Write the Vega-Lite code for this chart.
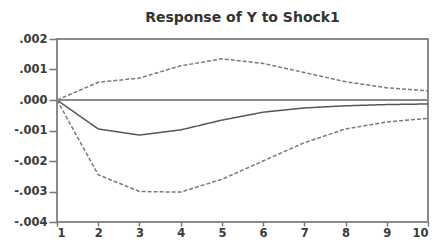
{
  "$schema": "https://vega.github.io/schema/vega-lite/v6.json",
  "autosize": "none",
  "width": 371,
  "height": 183,
  "padding": {"left": 57, "top": 39, "right": 10, "bottom": 18},
  "background": "white",
  "title": {"text": "Response of Y to Shock1", "font": "DejaVu Sans", "fontSize": 14, "fontWeight": "bold", "color": "#333", "offset": 8, "anchor": "middle"},
  "config": {
    "view": {"stroke": "#8a8a8a", "strokeWidth": 2},
    "axis": {"grid": false, "labelFont": "DejaVu Sans", "labelFontSize": 11.5, "labelFontWeight": "bold", "labelColor": "#3a3a3a", "domain": false, "tickColor": "#777", "tickWidth": 1.5, "title": null, "labelOverlap": false}
  },
  "data": {"values": [
    {"step": 1, "series": "resp", "value": 0},
    {"step": 2, "series": "resp", "value": -0.00095},
    {"step": 3, "series": "resp", "value": -0.00115},
    {"step": 4, "series": "resp", "value": -0.00098},
    {"step": 5, "series": "resp", "value": -0.00066},
    {"step": 6, "series": "resp", "value": -0.0004},
    {"step": 7, "series": "resp", "value": -0.00026},
    {"step": 8, "series": "resp", "value": -0.00019},
    {"step": 9, "series": "resp", "value": -0.00015},
    {"step": 10, "series": "resp", "value": -0.00013},
    {"step": 1, "series": "upper", "value": 0},
    {"step": 2, "series": "upper", "value": 0.00058},
    {"step": 3, "series": "upper", "value": 0.00072},
    {"step": 4, "series": "upper", "value": 0.00112},
    {"step": 5, "series": "upper", "value": 0.00135},
    {"step": 6, "series": "upper", "value": 0.0012},
    {"step": 7, "series": "upper", "value": 0.0009},
    {"step": 8, "series": "upper", "value": 0.0006},
    {"step": 9, "series": "upper", "value": 0.0004},
    {"step": 10, "series": "upper", "value": 0.0003},
    {"step": 1, "series": "lower", "value": 0},
    {"step": 2, "series": "lower", "value": -0.00245},
    {"step": 3, "series": "lower", "value": -0.003},
    {"step": 4, "series": "lower", "value": -0.00302},
    {"step": 5, "series": "lower", "value": -0.0026},
    {"step": 6, "series": "lower", "value": -0.002},
    {"step": 7, "series": "lower", "value": -0.0014},
    {"step": 8, "series": "lower", "value": -0.00095},
    {"step": 9, "series": "lower", "value": -0.00072},
    {"step": 10, "series": "lower", "value": -0.0006}
  ]},
  "layer": [
    {
      "mark": {"type": "line", "strokeWidth": 1.5},
      "encoding": {
        "x": {"field": "step", "type": "quantitative", "scale": {"domain": [1, 10], "nice": false}, "axis": {"values": [1,2,3,4,5,6,7,8,9,10], "labelOverlap": false, "tickSize": 4, "labelPadding": 1, "format": "d"}},
        "y": {"field": "value", "type": "quantitative", "scale": {"domain": [-0.004, 0.002], "nice": false}, "axis": {"values": [-0.004,-0.003,-0.002,-0.001,0,0.001,0.002], "tickCount": 7, "labelOverlap": false, "tickSize": 8, "labelPadding": 2, "labelExpr": "(datum.value < 0 ? '-' : '') + replace(format(abs(datum.value), '.3f'), '0.', '.')"}},
        "detail": {"field": "series"},
        "color": {"field": "series", "type": "nominal", "scale": {"domain": ["resp", "upper", "lower"], "range": ["#555", "#7a7a7a", "#7a7a7a"]}, "legend": null},
        "strokeDash": {"field": "series", "type": "nominal", "scale": {"domain": ["resp", "upper", "lower"], "range": [[1, 0], [4, 2], [4, 2]]}, "legend": null}
      }
    },
    {
      "mark": {"type": "rule", "color": "#8a8a8a", "strokeWidth": 2},
      "encoding": {"y": {"datum": 0, "type": "quantitative"}}
    }
  ]
}
